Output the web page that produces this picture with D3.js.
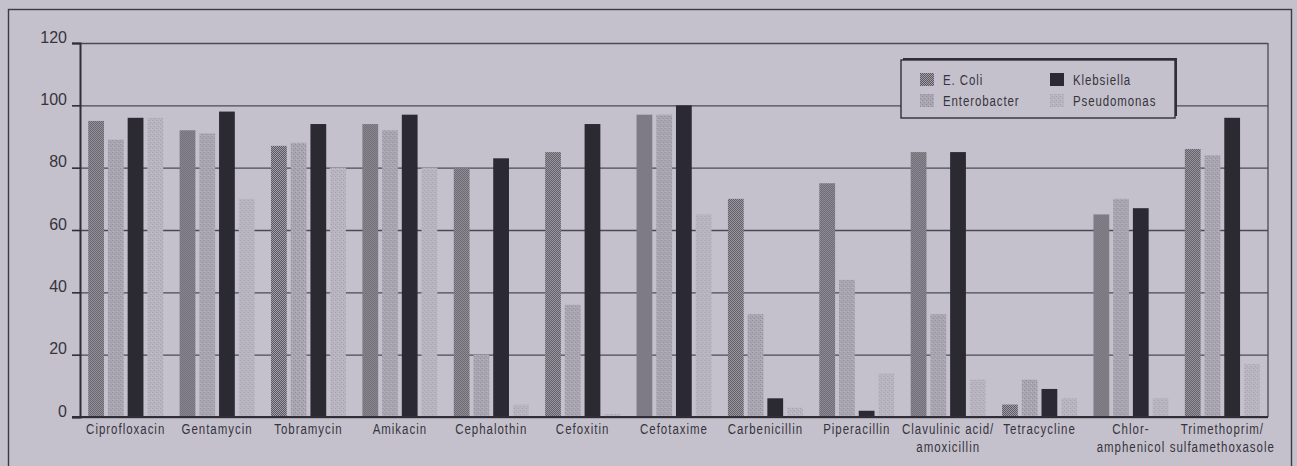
<!DOCTYPE html>
<html>
<head>
<meta charset="utf-8">
<script src="https://cdn.jsdelivr.net/npm/d3@7"></script>
<style>
  html, body { margin: 0; padding: 0; background: #c5c1cc; }
  svg { display: block; }
  .tick-label { font-family: "Liberation Sans", Arial, sans-serif; font-size: 16px; fill: #35343d; }
  .cat-label { font-family: "Liberation Sans", Arial, sans-serif; font-size: 14px; fill: #35343d; letter-spacing: 1.2px; }
  .legend-label { font-family: "Liberation Sans", Arial, sans-serif; font-size: 14px; fill: #35343d; letter-spacing: 1.1px; }
</style>
</head>
<body>
<svg id="chart" width="1297" height="466"></svg>
<script>
// Antibiotic susceptibility (%) by organism
const categories = [
  "Ciprofloxacin", "Gentamycin", "Tobramycin", "Amikacin", "Cephalothin",
  "Cefoxitin", "Cefotaxime", "Carbenicillin", "Piperacillin",
  "Clavulinic acid/\namoxicillin", "Tetracycline", "Chlor-\namphenicol",
  "Trimethoprim/\nsulfamethoxasole"
];
const series = ["E. Coli", "Enterobacter", "Klebsiella", "Pseudomonas"];
const eColi        = [95, 92, 87, 94, 80, 85, 97, 70, 75, 85, 4, 65, 86];
const enterobacter = [89, 91, 88, 92, 20, 36, 97, 33, 44, 33, 12, 70, 84];
const klebsiella   = [96, 98, 94, 97, 83, 94, 100, 6, 2, 85, 9, 67, 96];
const pseudomonas  = [96, 70, 80, 80, 4, 1, 65, 3, 14, 12, 6, 6, 17];
const yTicks = [0, 20, 40, 60, 80, 100, 120];

const valuesBySeries = [eColi, enterobacter, klebsiella, pseudomonas];

const svg = d3.select("#chart");
const plot = { left: 80, right: 1268, top: 43, bottom: 417 };
const narrow = 0.82; // horizontal squeeze for the condensed lettering

// fill patterns
const defs = svg.append("defs");
function pattern(id, size, base, dots) {
  const p = defs.append("pattern").attr("id", id)
    .attr("patternUnits", "userSpaceOnUse").attr("width", size).attr("height", size);
  p.append("rect").attr("width", size).attr("height", size).attr("fill", base);
  dots.forEach(d => p.append("rect").attr("x", d[0]).attr("y", d[1])
    .attr("width", 1).attr("height", 1).attr("fill", d[2]));
}
pattern("pat-ecoli", 2, "#a29fa9", [[0, 0, "#5a5761"], [1, 1, "#5a5761"]]);
pattern("pat-entero", 4, "#aaa6b1", [[0, 0, "#8f8b97"], [2, 2, "#8f8b97"], [1, 3, "#bcb8c3"]]);
pattern("pat-pseudo", 4, "#b9b5c0", [[0, 0, "#a29eab"], [2, 2, "#a29eab"], [3, 1, "#c9c5d0"]]);
const fills = ["url(#pat-ecoli)", "url(#pat-entero)", "#2b2a33", "url(#pat-pseudo)"];

// outer frame
svg.append("rect").attr("x", 8.5).attr("y", 9.5).attr("width", 1283).attr("height", 470)
  .attr("fill", "none").attr("stroke", "#3c3b44").attr("stroke-width", 1.4);

const x = d3.scaleBand().domain(categories).range([plot.left, plot.right])
  .paddingInner(0.18).paddingOuter(0.09);
const xs = d3.scaleBand().domain(series).range([0, x.bandwidth()]).paddingInner(0.2);
const y = d3.scaleLinear().domain([0, 120]).range([plot.bottom, plot.top]);

// horizontal grid
const grid = svg.append("g").attr("transform", `translate(${plot.left},0)`)
  .call(d3.axisLeft(y).tickValues(yTicks).tickSize(-(plot.right - plot.left)).tickFormat(""));
grid.select(".domain").remove();
grid.selectAll("line").attr("stroke", "#4b4a54").attr("stroke-width", 1.3);

// right edge of plot
svg.append("line").attr("x1", plot.right).attr("x2", plot.right)
  .attr("y1", y(120)).attr("y2", y(0)).attr("stroke", "#4b4a54").attr("stroke-width", 1.3);

// bars
const groups = svg.append("g").selectAll("g").data(categories).join("g")
  .attr("transform", d => `translate(${x(d)},0)`);
groups.selectAll("rect")
  .data((c, i) => series.map((s, k) => ({ s, k, v: valuesBySeries[k][i] })))
  .join("rect")
  .attr("x", d => xs(d.s))
  .attr("width", xs.bandwidth())
  .attr("y", d => y(d.v))
  .attr("height", d => y(0) - y(d.v))
  .attr("fill", d => fills[d.k]);

// y axis with outward ticks
const yAxis = svg.append("g").attr("transform", `translate(${plot.left},0)`)
  .call(d3.axisLeft(y).tickValues(yTicks).tickSize(8).tickPadding(5));
yAxis.attr("font-size", null).attr("font-family", null);
yAxis.select(".domain").attr("stroke", "#2f2e37").attr("stroke-width", 2);
yAxis.selectAll("line").attr("stroke", "#2f2e37").attr("stroke-width", 1.6);
yAxis.selectAll("text").attr("class", "tick-label").attr("dy", "-0.05em").attr("fill", null);

// baseline
svg.append("line").attr("x1", plot.left - 8).attr("x2", plot.right)
  .attr("y1", y(0)).attr("y2", y(0)).attr("stroke", "#2f2e37").attr("stroke-width", 2);

// category labels (condensed)
const labels = svg.append("g").selectAll("text").data(categories).join("text")
  .attr("class", "cat-label")
  .attr("text-anchor", "middle")
  .attr("transform", d => `translate(${x(d) + x.bandwidth() / 2},434) scale(${narrow},1)`);
labels.each(function (d) {
  const t = d3.select(this);
  d.split("\n").forEach((line, i) => {
    t.append("tspan").attr("x", 0).attr("dy", i === 0 ? 0 : 18).text(line);
  });
});

// legend
const lg = { x: 901, y: 60, w: 274, h: 58 };
svg.append("rect").attr("x", lg.x + 2).attr("y", lg.y - 2).attr("width", lg.w).attr("height", lg.h)
  .attr("fill", "#2f2e37");
svg.append("rect").attr("x", lg.x).attr("y", lg.y).attr("width", lg.w).attr("height", lg.h)
  .attr("fill", "#c5c1cc").attr("stroke", "#2f2e37").attr("stroke-width", 1.4);
const legendPos = [[920, 73], [920, 94], [1050, 73], [1050, 94]];
const legendItems = svg.append("g").selectAll("g").data(series).join("g")
  .attr("transform", (d, i) => `translate(${legendPos[i][0]},${legendPos[i][1]})`);
legendItems.append("rect").attr("width", 14).attr("height", 13)
  .attr("fill", (d, i) => fills[i]);
legendItems.append("text").attr("class", "legend-label")
  .attr("transform", `translate(23,12) scale(${narrow},1)`).text(d => d);
</script>
</body>
</html>
